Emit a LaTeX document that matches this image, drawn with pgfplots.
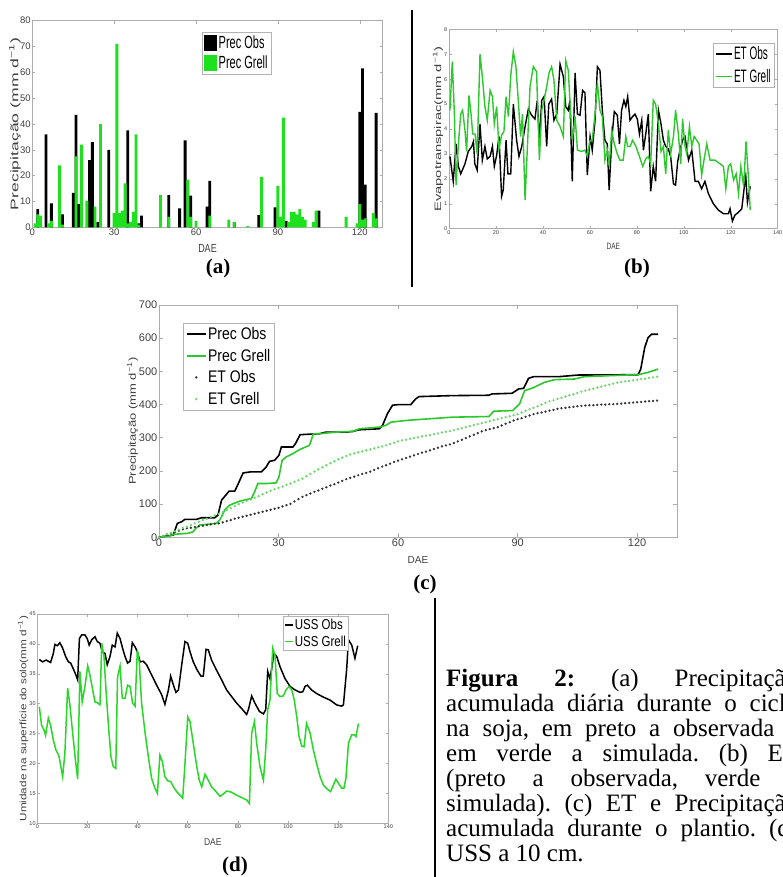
\documentclass[border=0pt]{standalone}
\usepackage{fontspec}
\setmainfont{Liberation Serif}
\newfontfamily\arial{Liberation Sans}
\usepackage{graphicx}
\usepackage{pgfplots}
\pgfplotsset{compat=1.18}
\newcommand\fs[2]{\fontsize{#1}{#2}\selectfont}
\definecolor{agreen}{RGB}{30,225,30}
\definecolor{bgreen}{RGB}{45,200,45}
\definecolor{cgreen}{RGB}{45,200,45}
\definecolor{cdot}{RGB}{105,215,105}
\definecolor{dgreen}{RGB}{40,215,40}
\pgfplotsset{
  mstyle/.style={
    scale only axis, anchor=south west,
    axis line style={gray!65, line width=0.6pt},
    tick style={gray!65, line width=0.5pt},
    major tick length=3pt,
    tick label style={text=black!75, inner sep=1.5pt},
    /pgf/number format/assume math mode=true,
    legend cell align=left,
  },
  lineleg/.style={legend image code/.code={\draw[##1] (0pt,0pt) -- (16pt,0pt);}},
  dlineleg/.style={legend image code/.code={\draw[##1] (0pt,0pt) -- (8pt,0pt);}},
  clineleg/.style={legend image code/.code={\draw[##1] (0pt,0pt) -- (19pt,0pt);}},
  markleg/.style={legend image code/.code={\draw[##1] plot coordinates {(9.5pt,0pt)};}},
  blackbox/.style={legend image code/.code={\fill[black] (0pt,-8pt) rectangle (13pt,8pt);}},
  greenbox/.style={legend image code/.code={\fill[agreen] (0pt,-8pt) rectangle (13pt,8pt);}},
}

\pgfplotstableread{
d v
0.4 2.9
1.8 1.9
3 3.4
4 2.5
5 2.2
6.8 2.6
8.2 3.1
9.7 3.3
10.4 3.5
11 2.6
12 2.35
13.2 4.2
14.2 2.75
15.3 3.3
16.3 2.8
17.5 2.9
18.5 3.3
19.3 2.5
20.3 2.95
21.3 3.7
22.4 1.3
23.1 1.55
24.3 3.55
25.1 2.2
26.3 2.2
27.4 5.0
28.8 3.55
29.8 2.9
31 3.3
32.4 4.1
33.8 4.8
35.2 4.55
36.6 4.4
37.6 5.15
38.5 3.55
39.5 5.15
40.5 5.3
41.6 3.3
42.5 5.0
43.7 5.2
44.7 4.35
45.9 4.6
47.3 6.6
48.7 6.1
49.7 4.9
50.8 4.75
51.5 5.15
52.5 1.9
53.7 6.25
54.7 4.6
55.8 4.55
56.9 5.55
57.9 5.45
58.9 2.15
60.1 3.7
61 3.15
62.2 4.35
63.2 6.5
64.3 6.35
65.3 4.75
66.4 3.55
67.4 3.4
68.2 1.55
69.3 3.55
70.4 4.7
71.7 4.55
72.6 3.4
73.5 4.75
74.5 5.15
75.3 4.9
76.1 5.3
77.1 4.35
78.2 4.5
79.2 4.6
80.2 4.4
81.1 3.8
82.1 4.35
82.8 3.15
83.8 3.8
84.9 4.6
85.9 1.5
87 2.5
88 1.9
89.2 4.75
90.3 4.2
91.3 3.55
92.3 3.3
93.4 3.2
94.4 2.9
95.6 1.8
96.5 1.75
97.4 2.7
98.4 3.15
99.5 3.55
100.5 3.7
102 2.75
103.4 3.15
104.8 1.9
106.2 1.9
107.6 1.6
109 1.9
110.5 1.4
112.6 1.0
114.7 0.75
116.9 0.6
119 0.6
119.7 0.8
120.7 0.3
121.8 0.55
123.2 0.65
124.7 0.8
125.8 1.7
126.4 2.1
127.1 1.05
128.3 1.7
}\etobs

\pgfplotstableread{
d v
0.4 4.75
1.4 6.7
2.3 4.6
3 1.75
4 3.4
5 4.6
5.8 4.75
6.8 3.95
7.5 3.1
8.5 5.35
9.4 4.6
10.1 3.8
11.1 3.8
12 3.0
13.2 7.0
14.2 6.1
15.3 4.9
16.3 4.35
17.5 5.55
18.5 5.3
19.3 4.2
20.3 4.9
21.3 3.2
22.4 3.75
23.4 3.9
24.3 5.3
25.3 4.5
26.3 6.15
27.4 7.1
28.5 6.5
29.5 5.15
30.5 3.7
31.3 4.6
32.4 1.15
33.4 3.3
34.5 5.7
35.9 6.5
37.3 6.3
38.5 2.75
39.5 4.75
40.5 5.15
41.6 5.7
42.6 6.25
43.7 6.5
44.7 5.95
45.9 4.35
47.3 4.1
48.7 3.7
49.7 6.75
50.8 6.35
51.5 5.15
52.5 3.55
53.7 4.5
54.7 3.15
56.5 3.1
57.9 3.15
58.9 2.9
60.1 3.55
61 3.55
62.2 4.6
63.2 5.85
64.3 4.75
65.3 4.5
66.4 2.75
67.4 3.15
68.2 2.5
69.3 3.95
70.4 3.4
71.7 3.0
72.8 2.75
74.2 2.75
75.3 3.7
76.1 3.3
77.1 3.3
78.2 3.55
79.6 3.3
81.1 2.9
82.5 2.5
83.8 2.8
84.9 2.9
85.9 2.6
87 5.15
88 5.0
89.2 4.2
90.3 3.1
91.3 3.3
92.3 2.2
93.4 3.95
94.4 3.0
95.6 3.7
96.5 4.75
97.7 3.8
98.7 2.6
99.5 4.4
100.5 3.3
101.3 3.0
102.4 4.1
103.4 3.3
104.4 3.7
105.5 3.55
106.5 3.4
107.6 2.15
108.6 2.75
109.8 3.4
111.2 2.75
113.3 2.75
115.5 2.6
116.9 2.5
117.9 1.6
119 2.5
120 2.6
121.2 1.95
122.3 2.2
123.3 1.4
124.3 2.5
125.5 1.7
126.5 3.5
127.6 1.95
128.3 0.75
}\etgrell

\pgfplotstableread{
d v
0 0
1 4
2 8
3 12
4 16
5 20
6 24
7 27
8 29
9 31
10 33
11 35
12 37
13 39
14 41
15 42
16 45
17 49
18 52
19 56
20 59
21 62
22 65
23 68
24 71
25 74
26 77
27 80
28 83
29 86
30 89
31 93
32 97
33 101
34 108
35 115
36 122
37 127
38 132
39 137
40 141
41 146
42 151
43 156
44 160
45 165
46 170
47 175
48 179
49 183
50 187
51 191
52 194
53 198
54 203
55 208
56 213
57 217
58 222
59 227
60 231
61 235
62 239
63 243
64 247
65 251
66 255
67 258
68 262
69 266
70 270
71 274
72 277
73 280
74 284
75 289
76 294
77 299
78 304
79 309
80 314
81 319
82 323
83 326
84 329
85 332
86 337
87 342
88 347
89 352
90 356
91 359
92 363
93 367
94 371
95 374
96 376
97 379
98 382
99 384
100 387
101 389
102 390
103 392
104 393
105 395
106 396
107 397
108 398
109 398
110 399
111 400
112 400
113 401
114 401
115 402
116 403
117 404
118 405
119 406
120 407
121 408
122 409
123 410
124 411
125 412
}\cetobs

\pgfplotstableread{
d v
0 0
1 4
2 9
3 13
4 18
5 23
6 28
7 32
8 37
9 42
10 47
11 52
12 56
13 61
14 66
15 71
16 76
17 82
18 88
19 94
20 100
21 105
22 110
23 114
24 119
25 124
26 130
27 135
28 140
29 145
30 149
31 153
32 158
33 162
34 167
35 172
36 177
37 184
38 191
39 198
40 205
41 211
42 217
43 223
44 229
45 235
46 240
47 245
48 250
49 253
50 256
51 259
52 262
53 265
54 268
55 271
56 274
57 277
58 281
59 285
60 289
61 292
62 294
63 297
64 299
65 301
66 304
67 306
68 308
69 311
70 313
71 316
72 318
73 320
74 323
75 326
76 329
77 332
78 335
79 338
80 341
81 344
82 347
83 350
84 353
85 356
86 359
87 362
88 365
89 368
90 371
91 376
92 381
93 386
94 390
95 395
96 400
97 405
98 410
99 413
100 417
101 420
102 424
103 428
104 431
105 435
106 439
107 442
108 445
109 448
110 451
111 454
112 457
113 460
114 463
115 466
116 468
117 470
118 471
119 473
120 475
121 477
122 478
123 480
124 482
125 484
}\cetgrell

\pgfplotstableread{
d v
0.8 37.4
2.1 37.0
3.5 37.3
4.4 37.1
5.3 36.9
6.4 38.4
7 39.9
8 39.7
9 40.2
10.1 39.3
11.3 37.9
12.4 37.0
13.3 36.8
14.4 35.8
15.4 34.8
16.1 34.0
16.8 40.9
17.7 41.5
19 41.5
19.9 40.9
20.7 39.8
21.7 40.7
23 41.2
23.9 40.4
25 40.1
25.9 38.7
27 38.4
27.9 36.5
29 37.9
29.9 39.8
31 39.5
31.9 41.8
33 40.9
34 39.3
35 37.9
36 36.8
37 37.1
37.9 40.2
39 39.5
39.9 38.7
41 37.0
42.3 37.1
43.6 36.5
45.6 34.8
47.6 33.1
49.6 31.5
50.9 29.9
52.3 32.3
53.2 34.6
54.3 33.1
55.3 31.9
56.3 32.3
57.6 36.5
58.9 40.4
60 40.1
60.9 38.7
62.2 37.0
63.8 35.6
65.3 34.6
66.2 34.6
67.3 39.1
68.2 39.0
69.5 37.3
71.5 35.6
73.5 34.0
75.5 32.3
77.5 31.2
79.5 30.1
81.5 29.2
83.5 28.2
84.2 29.0
85.5 31.3
86.8 30.1
88.6 28.7
90.2 28.3
91.1 29.0
91.9 35.4
92.8 34.2
93.5 35.9
94.4 38.4
95.5 37.9
96.8 36.2
98.8 34.2
100.8 32.9
102.8 32.3
104.8 31.9
105.9 32.0
106.8 32.9
107.7 33.1
109.4 32.3
111.4 31.7
114.1 31.1
116.8 30.6
118.1 30.2
119.4 29.8
121.4 29.6
122.1 29.8
123.4 35.8
124.1 40.7
125.4 39.8
126.7 37.6
127.8 39.7
}\ussobs

\pgfplotstableread{
d v
0.8 29.5
1.7 26.4
2.7 25.6
3.3 24.7
4.4 27.6
5.3 26.4
6.4 23.9
7.4 22.3
8.6 21.3
9.4 19.5
10.1 17.8
11 21.7
12.1 32.6
13 29.8
14.1 25.1
15.2 20.6
16.1 17.4
17 35.4
17.9 30.3
19 32.9
20.1 36.3
21 34.8
22.1 32.3
23 30.3
23.9 30.2
25 29.8
25.7 40.1
26.6 37.9
27.4 32.3
28.5 25.6
29.4 21.1
30.3 19.5
31.3 19.2
32 34.5
33 36.3
33.9 30.9
35 30.9
36 33.1
37 32.9
38 30.1
39 29.6
39.9 39.0
40.7 36.8
41.6 30.1
43 25.1
44.3 21.1
45.6 17.5
46.9 15.9
47.9 15.0
48.9 21.4
49.9 20.3
50.9 17.8
52 17.1
53.2 17.0
54.3 16.1
55.6 15.3
56.9 14.7
58 14.2
58.9 20.0
60 27.8
60.9 27.0
62.2 23.4
63.6 19.5
64.6 17.2
65.6 16.1
66.9 18.2
68.2 17.2
69.5 16.1
71.3 15.3
72.9 14.5
74.5 15.0
75.5 15.4
77.5 15.2
79.5 14.7
81.5 14.3
83.5 13.9
84.6 13.3
85.5 25.1
86.6 27.0
87.5 23.4
88.8 19.5
90.2 17.2
91.1 22.3
91.9 29.0
92.8 30.6
93.9 39.3
94.8 38.1
95.7 31.7
96.8 31.2
98.1 31.3
99.2 32.3
100.4 32.9
101.5 32.3
102.5 30.6
103.5 27.8
104.4 24.5
105.5 22.9
106.4 22.8
107.4 26.7
108.8 25.1
110.1 22.3
111.4 20.0
112.8 17.8
114.1 16.4
115.7 15.7
117 15.3
118.1 16.4
119.1 17.4
120.1 16.7
121.4 15.9
122.3 15.9
123.1 17.5
124.1 23.4
125.4 24.8
126.5 24.8
127.1 24.5
128.1 26.7
}\ussgrell

\begin{document}
\begin{tikzpicture}[x=1pt,y=1pt]
\useasboundingbox (0,0) rectangle (783,-877);
\fill[white] (0,0) rectangle (783,-877);

% ---------- (a) daily precipitation
\begin{axis}[mstyle, at={(32.3pt,-227.3pt)}, width=350.4pt, height=206.6pt,
  xmin=0, xmax=128.4, ymin=0, ymax=80,
  xtick={0,30,...,120}, ytick={0,10,...,80},
  tick label style={font=\arial\fs{9.5}{10}},
  xlabel={\scalebox{1}[1.3]{DAE}}, xlabel style={font=\arial\fs{9}{9}, text=black!75, at={(axis description cs:0.5,-0.1016)}, anchor=center},
  ylabel={\scalebox{1.6}[1]{Precipitação (mm d\textsuperscript{−1})}},
  ylabel style={font=\arial\fs{11}{11}, text=black!75, at={(axis description cs:-0.0494,0.5)}, anchor=center},
  legend style={at={(axis description cs:0.4843,0.9453)}, anchor=north west, draw=gray!60, font=\arial\fs{11}{11}, inner sep=2pt, row sep=3pt, nodes={inner sep=1.5pt}},
]
\addplot[ybar, bar width=1.05, fill=black, draw=none, blackbox] coordinates {
(2,7)(5,36)(7,9.3)(11,5)(15,13.3)(16,43.5)(17,9)(21,26)(22,33)(24,2)(28,30)
(35,37.5)(39,1.5)(40,4.5)(50,12.5)(54,7.3)(56,33.7)(58,12.3)(64,8)(65,18)
(74,2)(83,4.7)(89,7.7)(93,2.5)(105,6.5)(120,44.7)(121,61.5)(122,16.5)(126,44.3)};
\addlegendentry{\scalebox{1}[1.6]{Prec Obs}}
\addplot[ybar, bar width=1.05, fill=agreen, draw=none, greenbox] coordinates {
(1,1.5)(2,5)(3,4.5)(6,1.5)(7,2.5)(10,24)(11,1)(16,27.5)(18,32)(20,10.3)(23,8)
(25,40)(30,5.5)(31,71)(32,5.5)(33,6.5)(34,17)(35,1.5)(36,2)(37,6)(38,36)(39,1)
(47,12.5)(50,4)(57,18.5)(58,4)(60,2.5)(65,4.5)(72,3)(74,2)(79,0.5)(84,19.5)
(90,16)(91,4)(92,42.5)(94,2)(95,6)(96,6)(97,5)(98,7)(99,4)(100,3)(103,2)(104,6.5)
(115,4)(119,1.5)(120,9)(121,3)(122,3.5)(125,5.5)(126,3.5)};
\addlegendentry{\scalebox{1}[1.6]{Prec Grell}}
\end{axis}

% ---------- (b) daily ET
\begin{axis}[mstyle, at={(449pt,-228.7pt)}, width=328.7pt, height=199.4pt,
  xmin=0, xmax=140, ymin=0, ymax=8,
  xtick={0,20,...,140}, ytick={0,1,...,8},
  major tick length=2.5pt,
  tick label style={font=\arial\fs{5.5}{6}},
  xlabel={\scalebox{1}[1.4]{DAE}}, xlabel style={font=\arial\fs{6.5}{7}, text=black!75, at={(axis description cs:0.5,-0.090)}, anchor=center},
  ylabel={\scalebox{1.58}[1]{Evapotranspirac(mm d\textsuperscript{−1})}},
  ylabel style={font=\arial\fs{9.3}{10}, text=black!75, at={(axis description cs:-0.0335,0.5)}, anchor=center},
  legend style={at={(axis description cs:0.803,0.931)}, anchor=north west, draw=gray!60, font=\arial\fs{10}{10}, inner sep=2pt, row sep=5pt, nodes={inner sep=1.5pt}},
  lineleg,
]
\addplot[black, line width=1.4pt] table[x=d,y=v] {\etobs};
\addlegendentry{\scalebox{1}[1.8]{ET Obs}}
\addplot[bgreen, line width=1.4pt] table[x=d,y=v] {\etgrell};
\addlegendentry{\scalebox{1}[1.8]{ET Grell}}
\end{axis}

% ---------- (c) accumulated
\begin{axis}[mstyle, at={(159pt,-537.3pt)}, width=518pt, height=232.3pt,
  xmin=0, xmax=130, ymin=0, ymax=700,
  xtick={0,30,...,120}, ytick={0,100,...,700},
  major tick length=4pt,
  tick label style={font=\arial\fs{11}{11}},
  xlabel={DAE}, xlabel style={font=\arial\fs{10}{10}, text=black!75, at={(axis description cs:0.5,-0.0977)}, anchor=center},
  ylabel={\scalebox{1.3}[1]{Precipitação (mm d\textsuperscript{−1})}},
  ylabel style={font=\arial\fs{10}{10}, text=black!75, at={(axis description cs:-0.0508,0.5)}, anchor=center},
  legend style={at={(axis description cs:0.0469,0.9225)}, anchor=north west, draw=gray!60, font=\arial\fs{14}{14}, inner sep=2.5pt, row sep=5pt, nodes={inner sep=1.5pt}},
  clineleg,
]
\addplot[black, line width=1.6pt] coordinates {
(0,0)(3.6,7)(4.6,42)(5.7,47)(6.5,54)(9.4,54)(10.7,59)(14,59)(14.8,67)(15.7,112)
(16.75,127)(17.6,139)(19,139)(19.8,159)(21.1,194)(22.9,197)(25.7,197)(26.9,212)
(27.75,229)(29,232)(30.1,247)(30.7,272)(33.6,272)(34.25,282)(35.4,309)(36.5,310)
(40.25,312)(41.9,317)(46.9,317)(48.6,319)(50.25,324)(55.25,327)(56.1,337)(57.3,372)
(58.6,398)(60.1,400)(63.2,400)(64.4,417)(65.25,424)(73.6,427)(82.75,428)(83.6,432)
(88.6,434)(90.25,447)(91.5,449)(92.75,479)(94,484)(100.25,484)(105.25,489)
(120.25,490)(120.9,507)(121.9,572)(122.75,602)(123.6,612)(125.25,612)};
\addlegendentry{\scalebox{1}[1.2]{Prec Obs}}
\addplot[cgreen, line width=1.6pt] coordinates {
(0,0)(2.75,4)(3.6,9)(7.3,12)(8.6,17)(9.25,27)(10.25,37)(14.4,42)(15.25,52)(16.5,82)
(17.75,97)(20.25,109)(23.2,117)(24,137)(24.8,162)(26.9,162)(29.4,164)(30.1,182)
(30.9,232)(31.9,242)(33.6,252)(35.25,264)(36.75,272)(37.75,277)(38.75,312)(40.25,312)
(44.4,317)(48.6,319)(50.25,327)(55.25,332)(56.9,337)(58.2,347)(61.9,352)(65.25,355)
(73.6,362)(82.8,364)(84,380)(88.75,382)(90.5,402)(91.75,442)(93.8,450)(96.75,467)
(99.25,475)(104.25,477)(106.75,484)(119.4,490)(120.25,490)(122.75,497)(125.25,507)};
\addlegendentry{\scalebox{1}[1.2]{Prec Grell}}
\addplot[only marks, mark=*, mark size=0.95pt, black!80, markleg] table[x=d,y=v] {\cetobs};
\addlegendentry{\scalebox{1}[1.2]{ET Obs}}
\addplot[only marks, mark=*, mark size=0.95pt, cdot, markleg] table[x=d,y=v] {\cetgrell};
\addlegendentry{\scalebox{1}[1.2]{ET Grell}}
\end{axis}

% ---------- (d) soil moisture
\begin{axis}[mstyle, at={(37.3pt,-823.3pt)}, width=351pt, height=209.3pt,
  xmin=0, xmax=140, ymin=10, ymax=45,
  xtick={0,20,...,140}, ytick={10,15,...,45},
  major tick length=2.5pt,
  tick label style={font=\arial\fs{5.5}{6}},
  xlabel={\scalebox{1}[1.15]{DAE}}, xlabel style={font=\arial\fs{8.5}{9}, text=black!75, at={(axis description cs:0.5,-0.088)}, anchor=center},
  ylabel={\scalebox{1.26}[1]{Umidade na superfície do solo(mm d\textsuperscript{−1})}},
  ylabel style={font=\arial\fs{9.3}{10}, text=black!75, at={(axis description cs:-0.040,0.5)}, anchor=center},
  legend style={at={(axis description cs:0.699,0.990)}, anchor=north west, draw=gray!60, font=\arial\fs{11.5}{12}, inner sep=1.5pt, row sep=3pt, nodes={inner sep=1pt}},
  dlineleg,
]
\addplot[black, line width=1.5pt] table[x=d,y=v] {\ussobs};
\addlegendentry{\scalebox{1}[1.25]{USS Obs}}
\addplot[dgreen, line width=1.5pt] table[x=d,y=v] {\ussgrell};
\addlegendentry{\scalebox{1}[1.25]{USS Grell}}
\end{axis}

% panel letters and separators
\node[font=\bfseries\fs{21}{21}] at (218,-268) {(a)};
\node[font=\bfseries\fs{21}{21}] at (637,-268) {(b)};
\node[font=\bfseries\fs{21}{21}] at (425,-584) {(c)};
\node[font=\bfseries\fs{21}{21}] at (235,-866) {(d)};
\draw[line width=2pt] (412,-10) -- (412,-287);
\draw[line width=2pt] (435,-598) -- (435,-877);

% caption
\node[anchor=base west, inner sep=0pt] at (446,-686) {\parbox[t]{352pt}{\fs{25}{25}\parindent=0pt\frenchspacing
\textbf{Figura 2:} (a) Precipitação\linebreak acumulada diária durante o ciclo\linebreak na soja, em preto a observada e\linebreak em verde a simulada. (b) ET\linebreak (preto a observada, verde a\linebreak simulada). (c) ET e Precipitação\linebreak acumulada durante o plantio. (d)\linebreak USS a 10 cm.}};
\end{tikzpicture}
\end{document}
